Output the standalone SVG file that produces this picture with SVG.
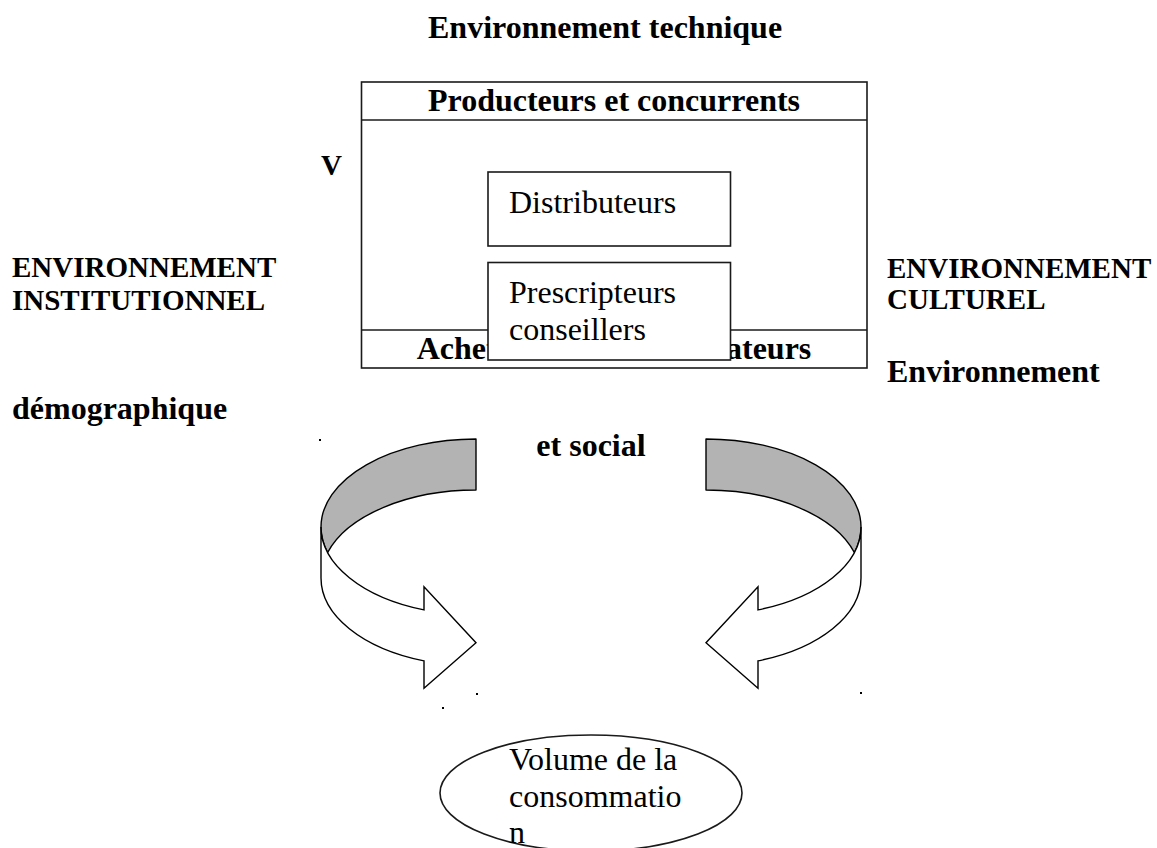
<svg xmlns="http://www.w3.org/2000/svg" width="1157" height="848" viewBox="0 0 1157 848">
<style>
.b{font-family:"Liberation Serif","Times New Roman",serif;font-weight:bold;font-size:32px;fill:#000}
.c{font-family:"Liberation Serif","Times New Roman",serif;font-weight:bold;font-size:29px;fill:#000}
.r{font-family:"Liberation Serif","Times New Roman",serif;font-size:32px;fill:#000}
.box{fill:#fff;stroke:#1a1a1a;stroke-width:1.6}
.ln{stroke:#1a1a1a;stroke-width:1.6;fill:none}
.back{fill:#b3b3b3;stroke:#000;stroke-width:1.4;stroke-linejoin:round}
.front{fill:#fff;stroke:#000;stroke-width:1.4;stroke-linejoin:miter}
.dot{fill:#000}
</style>
<rect width="1157" height="848" fill="#fff"/>

<g id="labels">
<text class="b" x="428" y="38">Environnement technique</text>
<text class="b" x="321" y="175" style="font-size:29px">V</text>
<text class="c" x="12" y="277">ENVIRONNEMENT</text>
<text class="c" x="12" y="310">INSTITUTIONNEL</text>
<text class="c" x="887" y="278">ENVIRONNEMENT</text>
<text class="c" x="887" y="309">CULTUREL</text>
<text class="b" x="887" y="382">Environnement</text>
<text class="b" x="12" y="419">démographique</text>
<text class="b" x="591" y="456" text-anchor="middle">et social</text>
</g>

<g id="market">
<rect class="box" x="361.5" y="82" width="505.5" height="286"/>
<line class="ln" x1="361.5" y1="120" x2="867" y2="120"/>
<line class="ln" x1="361.5" y1="330" x2="867" y2="330"/>
<text class="b" x="614" y="111" text-anchor="middle">Producteurs et concurrents</text>
<text class="b" x="614" y="359" text-anchor="middle">Acheteurs et consommateurs</text>
</g>

<g id="distributeurs">
<rect class="box" x="488" y="172" width="242.5" height="74"/>
<text class="r" x="509" y="213">Distributeurs</text>
</g>

<g id="prescripteurs">
<rect class="box" x="488" y="262.5" width="242.5" height="97.5"/>
<text class="r" x="509" y="303">Prescripteurs</text>
<text class="r" x="509" y="340">conseillers</text>
</g>

<g id="connectors">
<g id="arrow-left">
<path class="back" d="M476 439 A155 88 0 0 0 321 527 A155 88 0 0 0 327.65 552.5 A155 88 0 0 1 476 490 Z"/>
<path class="front" d="M321 527 A155 88 0 0 0 424 609.9 L424 586.7 L476 642.7 L424 688.3 L424 660.9 A155 88 0 0 1 321 578 Z"/>
</g>
<g id="arrow-right" transform="translate(1182,0) scale(-1,1)">
<path class="back" d="M476 439 A155 88 0 0 0 321 527 A155 88 0 0 0 327.65 552.5 A155 88 0 0 1 476 490 Z"/>
<path class="front" d="M321 527 A155 88 0 0 0 424 609.9 L424 586.7 L476 642.7 L424 688.3 L424 660.9 A155 88 0 0 1 321 578 Z"/>
</g>
</g>

<g id="dots">
<rect class="dot" x="319" y="439" width="2" height="2"/>
<rect class="dot" x="476" y="693" width="2" height="2"/>
<rect class="dot" x="860" y="692" width="2" height="2"/>
<rect class="dot" x="442" y="707" width="2" height="2"/>
</g>

<g id="volume">
<ellipse class="box" cx="591" cy="793" rx="151" ry="58"/>
<text class="r" x="509" y="770">Volume de la</text>
<text class="r" x="509" y="807">consommatio</text>
<text class="r" x="509" y="843">n</text>
</g>
</svg>
